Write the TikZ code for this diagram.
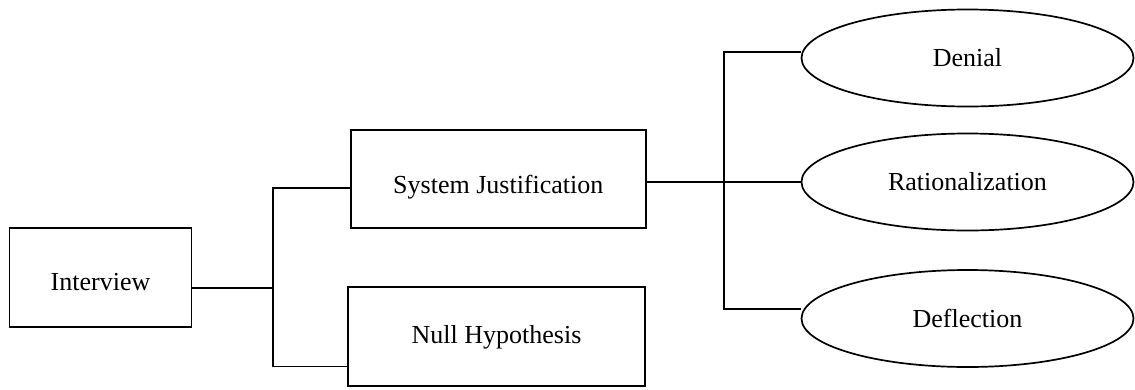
\documentclass[tikz,border=0pt]{standalone}
\usepackage{fontspec}
\setmainfont{Liberation Serif}
\usetikzlibrary{shapes.geometric}
\begin{document}
\begin{tikzpicture}[x=1pt,y=-1pt,
  every node/.style={font=\fontsize{26}{30}\selectfont},
  boxnode/.style={draw,line width=1.9pt,rectangle,inner sep=0pt,text depth=6pt},
  ovalnode/.style={draw,line width=1.7pt,ellipse,inner sep=0pt,minimum width=332,minimum height=97},
  link/.style={line width=1.8pt}]
\useasboundingbox (0,0) rectangle (1135,389);
\node[boxnode,minimum width=182,minimum height=99,text height=31pt] (int) at (100.5,277.8) {Interview};
\node[boxnode,minimum width=295,minimum height=98,text height=35pt] (sj) at (498.3,179.2) {System Justification};
\node[boxnode,minimum width=297,minimum height=99,text height=19pt] (nh) at (496.5,336.5) {Null Hypothesis};
\node[ovalnode] (den) at (967.5,58) {Denial};
\node[ovalnode] (rat) at (967.5,182) {Rationalization};
\node[ovalnode] (def) at (967.5,318.5) {Deflection};
\coordinate (jm) at (272.7,288);
\coordinate (ja) at (272.7,188);
\coordinate (jb) at (272.7,366.5);
\coordinate (kt) at (724.3,51.7);
\coordinate (kb) at (724.3,309.3);
\draw[link] (int.east |- jm) -- (jm);
\draw[link] (sj.west |- ja) -- (ja) -- (jb) -- (nh.west |- jb);
\draw[link] (sj.east |- rat.west) -- (rat.west);
\draw[link] (den.west |- kt) -- (kt) -- (kb) -- (def.west |- kb);
\end{tikzpicture}
\end{document}
